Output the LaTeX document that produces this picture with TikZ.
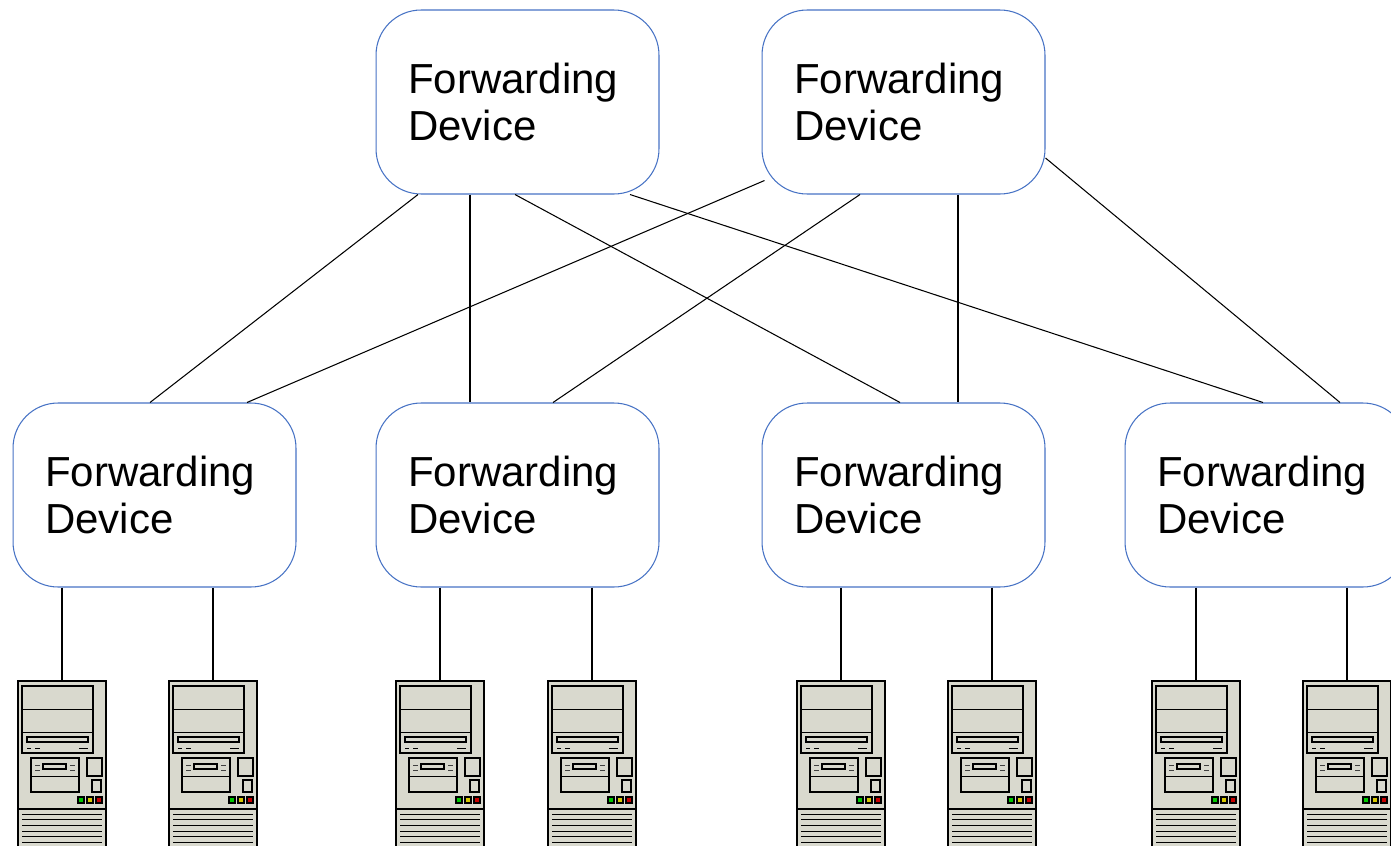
\documentclass[tikz,border=0pt]{standalone}
\usepackage{fontspec}
\setmainfont{Liberation Sans}
\usepackage{tikz}
\usetikzlibrary{calc,positioning}

\definecolor{boxblue}{RGB}{70,114,196}
\definecolor{casegrey}{RGB}{217,217,206}
\definecolor{ledgreen}{RGB}{0,200,0}
\definecolor{ledyellow}{RGB}{215,200,0}
\definecolor{ledred}{RGB}{200,0,0}

\tikzset{
  tower/.pic={
    \coordinate (-top) at (44,0);
    \filldraw[fill=casegrey, line width=0.8pt] (0,0) rectangle (88,190);
    \draw[line width=0.8pt] (4,5) rectangle (75,72);
    \draw[line width=0.5pt] (4,28) -- (75,28);
    \draw[line width=0.5pt] (4,51) -- (75,51);
    \draw[line width=0.8pt] (9,56) rectangle (70,61);
    \foreach \a/\b in {9/13,17/22,61/70} \draw[line width=0.4pt] (\a,67) -- (\b,67);
    \draw[line width=0.8pt] (13,77) rectangle (61,111);
    \draw[line width=0.5pt] (13,95) -- (61,95);
    \draw[line width=0.8pt] (25,83) rectangle (48,88);
    \foreach \a/\b in {17/22,52/57} {
      \draw[line width=0.4pt, darkgray] (\a,84) -- (\b,84);
      \draw[line width=0.4pt, darkgray] (\a,89) -- (\b,89);
    }
    \draw[line width=0.8pt] (69,77) rectangle (84,95);
    \draw[line width=0.8pt] (74,99) rectangle (83,111);
    \filldraw[fill=ledgreen, line width=0.6pt] (60,116) rectangle (66,122);
    \filldraw[fill=ledyellow, line width=0.6pt] (69,116) rectangle (75,122);
    \filldraw[fill=ledred, line width=0.6pt] (78,116) rectangle (84,122);
    \draw[line width=0.6pt] (0,128) -- (88,128);
    \foreach \y in {133,138.7,...,185} \draw[line width=0.5pt] (4,\y) -- (84,\y);
  }
}

\begin{document}
\begin{tikzpicture}[x=0.02cm, y=-0.02cm]
\tikzstyle{fwd} = [rectangle, rounded corners=0.9cm, draw=boxblue, line width=0.6pt,
  minimum width=5.66cm, minimum height=3.68cm, text width=4.38cm, align=left, inner sep=0pt,
  font=\fontsize{23.9pt}{26.8pt}\selectfont]
\tikzstyle{link} = [draw=black, line width=0.6pt]
\useasboundingbox (0,0) rectangle (1391,845);
\clip (0,0) rectangle (1391,845);
% forwarding devices
\node[fwd] (t1) at (517.5,102) {Forwarding\\Device};
\node[fwd] (t2) at (903.5,102) {Forwarding\\Device};
\node[fwd] (m1) at (154.5,495) {Forwarding\\Device};
\node[fwd] (m2) at (517.5,495) {Forwarding\\Device};
\node[fwd] (m3) at (903.5,495) {Forwarding\\Device};
\node[fwd] (m4) at (1266.5,495) {Forwarding\\Device};
% hosts
\pic (h1) at (18,681) {tower};
\pic (h2) at (169,681) {tower};
\pic (h3) at (396,681) {tower};
\pic (h4) at (548,681) {tower};
\pic (h5) at (797,681) {tower};
\pic (h6) at (948,681) {tower};
\pic (h7) at (1152,681) {tower};
\pic (h8) at (1303,681) {tower};
% links
\draw[link] ($(t1.south)+(-99.5,0)$) -- ($(m1.north)+(-4.5,0)$);
\draw[link] ($(t1.south)+(-47.5,0)$) -- ($(m2.north)+(-47.5,0)$);
\draw[link] ($(t1.south)+(-2.5,0)$) -- ($(m3.north)+(-3.5,0)$);
\draw[link] ($(t1.south)+(112.5,0)$) -- ($(m4.north)+(-3.5,0)$);
\draw[link] ($(t2.south west)+(3,-14)$) -- ($(m1.north)+(92.5,0)$);
\draw[link] ($(t2.south)+(-43.5,0)$) -- ($(m2.north)+(35.5,0)$);
\draw[link] ($(t2.south)+(54.5,0)$) -- ($(m3.north)+(54.5,0)$);
\draw[link] ($(t2.east)+(0,56)$) -- ($(m4.north)+(73.5,0)$);
\draw[link] (h1-top |- m1.south) -- (h1-top);
\draw[link] (h2-top |- m1.south) -- (h2-top);
\draw[link] (h3-top |- m2.south) -- (h3-top);
\draw[link] (h4-top |- m2.south) -- (h4-top);
\draw[link] (h5-top |- m3.south) -- (h5-top);
\draw[link] (h6-top |- m3.south) -- (h6-top);
\draw[link] (h7-top |- m4.south) -- (h7-top);
\draw[link] (h8-top |- m4.south) -- (h8-top);
\end{tikzpicture}
\end{document}
